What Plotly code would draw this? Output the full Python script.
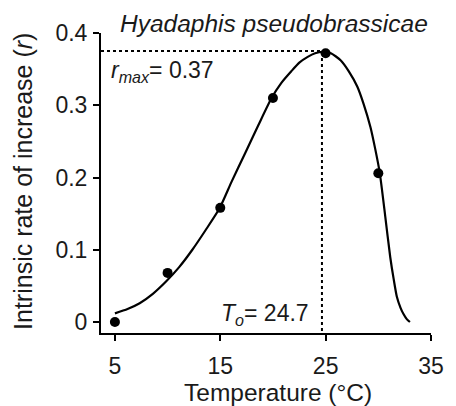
import plotly.graph_objects as go

# Observed data
temp_obs = [5, 10, 15, 20, 25, 30]
r_obs = [0.0, 0.068, 0.158, 0.31, 0.372, 0.206]

# Fitted curve
temp_fit = [5.0, 6.2, 7.35, 8.6, 9.85, 11.1, 12.35, 13.6, 14.92, 16.1, 17.37, 18.6, 19.87,
            20.8, 21.74, 22.5, 23.3, 24.0, 24.7, 25.5, 26.44, 27.2, 28.0, 28.6, 29.25,
            29.7, 30.13, 30.66, 31.13, 31.45, 31.76, 32.1, 32.39, 32.7, 33.0]
r_fit = [0.012, 0.018, 0.026, 0.039, 0.056, 0.076, 0.1, 0.127, 0.157, 0.195, 0.234, 0.272, 0.31,
         0.331, 0.347, 0.359, 0.367, 0.372, 0.374, 0.372, 0.362, 0.347, 0.326, 0.302, 0.27,
         0.24, 0.207, 0.146, 0.09, 0.06, 0.035, 0.02, 0.011, 0.004, 0.0]

t_opt = 24.65
r_max = 0.375

x_ticks = [5, 15, 25, 35]
y_ticks = [0, 0.1, 0.2, 0.3, 0.4]
y_tick_text = ["0", "0.1", "0.2", "0.3", "0.4"]

FONT = "Liberation Sans, Arial, sans-serif"
TXT = "#1a1a1a"

fig = go.Figure()

# dotted guide lines
fig.add_trace(go.Scatter(x=[3.68, t_opt, t_opt], y=[r_max, r_max, -0.0152], mode="lines",
                         line=dict(color="black", width=2, dash="dot"), hoverinfo="skip",
                         showlegend=False))

fig.add_trace(go.Scatter(x=temp_fit, y=r_fit, mode="lines",
                         line=dict(color="black", width=2.2, shape="spline", smoothing=0.6),
                         showlegend=False))

fig.add_trace(go.Scatter(x=temp_obs, y=r_obs, mode="markers",
                         marker=dict(color="black", size=10), showlegend=False, cliponaxis=False))

W, H = 456, 406
l, r, t, b = 101, 21, 33, 73
pw, ph = W - l - r, H - t - b

def px(x, y):
    return (x - l) / pw, (H - b - y) / ph

fig.update_layout(
    width=W, height=H,
    margin=dict(l=l, r=r, t=t, b=b),
    plot_bgcolor="white", paper_bgcolor="white",
    font=dict(family=FONT, size=23, color=TXT),
    xaxis=dict(range=[3.68, 35], tickvals=x_ticks, showline=True, linecolor="black", linewidth=2,
               ticks="outside", ticklen=6, tickwidth=2, tickcolor="black", showgrid=False,
               zeroline=False, ticklabelstandoff=5,
               tickfont=dict(family=FONT, size=23, color=TXT)),
    yaxis=dict(range=[-0.0152, 0.4], tickvals=y_ticks, ticktext=y_tick_text, showline=True,
               linecolor="black", linewidth=2, ticks="outside", ticklen=6, tickwidth=2,
               tickcolor="black", showgrid=False, zeroline=False, ticklabelstandoff=1,
               tickfont=dict(family=FONT, size=23, color=TXT)),
)

anns = [
    dict(pos=(276, 24), text="<i>Hyadaphis pseudobrassicae</i>", xanchor="center", size=24.5, angle=0),
    dict(pos=(109, 71), text="<i>r</i><sub><i>max</i></sub>= 0.37", xanchor="left", size=23, angle=0),
    dict(pos=(314, 314), text="<i>T</i><sub><i>o</i></sub>= 24.7", xanchor="right", size=23, angle=0),
    dict(pos=(280, 392), text="Temperature (°C)", xanchor="center", size=24.5, angle=0),
    dict(pos=(22, 181), text="Intrinsic rate of increase (<i>r</i>)", xanchor="center", size=25, angle=-90),
]
for a in anns:
    x, y = px(*a["pos"])
    fig.add_annotation(x=x, y=y, xref="paper", yref="paper", text=a["text"], showarrow=False,
                       xanchor=a["xanchor"], yanchor="middle", textangle=a["angle"],
                       font=dict(family=FONT, size=a["size"], color=TXT))

fig.write_html("out.html")
